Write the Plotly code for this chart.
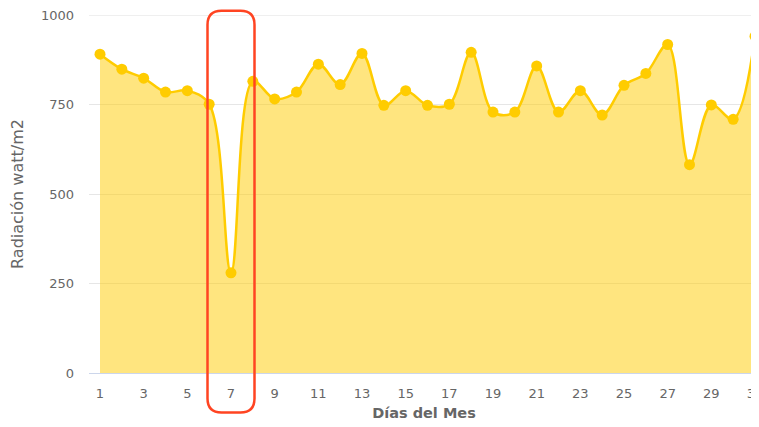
import plotly.graph_objects as go

days = list(range(1, 32))
radiation = [891, 849, 824, 785, 789, 751, 280, 815, 766, 785,
             863, 806, 893, 748, 789, 748, 751, 896, 729, 729,
             858, 729, 789, 721, 804, 837, 918, 582, 749, 709, 941]
x_tick_vals = list(range(1, 32, 2))
y_tick_vals = [0, 250, 500, 750, 1000]
x_title = "Días del Mes"
y_title = "Radiación watt/m2"
highlight_day = 7

# page offset from default body margin
OFF = 8
PAGE_W, PAGE_H = 759, 427
PLOT_L, PLOT_R, PLOT_T, PLOT_B = 89, 759, 15, 373  # page pixel positions
W, H = PAGE_W - OFF, PAGE_H - OFF
ML, MR, MT, MB = PLOT_L - OFF, PAGE_W - PLOT_R, PLOT_T - OFF, PAGE_H - PLOT_B
PW, PH = PLOT_R - PLOT_L, PLOT_B - PLOT_T
X0, X1 = 0.496, 31.183
Y0, Y1 = 0, 1000.4

fig = go.Figure()
fig.add_trace(go.Scatter(
    x=days, y=radiation, mode="lines+markers",
    line=dict(color="#ffcc00", width=2.5, shape="spline", smoothing=1.0),
    marker=dict(color="#ffcc00", size=11),
    fill="tozeroy", fillcolor="rgba(255,204,0,0.5)",
    cliponaxis=False, showlegend=False,
))

# top gridline (ensure it is visible at the plot edge)
fig.add_shape(type="line", xref="paper", yref="y", x0=0, x1=1,
              y0=y_tick_vals[-1], y1=y_tick_vals[-1],
              line=dict(color="#e6e6e6", width=1), layer="below")

def px_x(px):
    return (px - PLOT_L) / PW

def px_y(py):
    return (PLOT_B - py) / PH

day_px = PLOT_L + (highlight_day - X0) / (X1 - X0) * PW
half_w = 23.5
left, right = day_px - half_w, day_px + half_w
top, bottom = 10.7, 412.5
r = 14
pts = [
    ("M", left + r, top),
    ("L", right - r, top),
    ("Q", right, top, right, top + r),
    ("L", right, bottom - r),
    ("Q", right, bottom, right - r, bottom),
    ("L", left + r, bottom),
    ("Q", left, bottom, left, bottom - r),
    ("L", left, top + r),
    ("Q", left, top, left + r, top),
]
path = ""
for p in pts:
    cmd = p[0]
    coords = p[1:]
    s = []
    for i in range(0, len(coords), 2):
        s.append(f"{px_x(coords[i]):.5f},{px_y(coords[i+1]):.5f}")
    path += cmd + " ".join(s) + " "
path += "Z"
fig.add_shape(type="path", path=path, xref="paper", yref="paper",
              line=dict(color="#ff4422", width=2.5), fillcolor="rgba(0,0,0,0)",
              layer="above")

font_family = "DejaVu Sans, Verdana, sans-serif"
fig.update_layout(
    width=W, height=H,
    margin=dict(l=ML, r=MR, t=MT, b=MB, autoexpand=False),
    paper_bgcolor="white", plot_bgcolor="white",
    font=dict(family=font_family, color="#666666", size=12),
    xaxis=dict(
        range=[X0, X1], tickvals=x_tick_vals, ticks="",
        showgrid=False, zeroline=False, automargin=False,
        showline=True, linecolor="#ccd6eb", linewidth=1,
        tickfont=dict(size=13, color="#666666"),
        ticklabelstandoff=8, ticklabeloverflow="allow",
        title=dict(text=f"<b>{x_title}</b>", font=dict(size=14.5, color="#666666"), standoff=8),
    ),
    yaxis=dict(
        range=[Y0, Y1], tickvals=y_tick_vals, ticks="",
        showgrid=True, gridcolor="#e6e6e6", gridwidth=1, zeroline=False,
        showline=False, automargin=False,
        tickfont=dict(size=13, color="#666666"),
        ticklabelstandoff=14, ticklabeloverflow="allow",
        title=dict(text=y_title, font=dict(size=16, color="#666666"), standoff=14),
    ),
)

fig.write_html("out.html")
